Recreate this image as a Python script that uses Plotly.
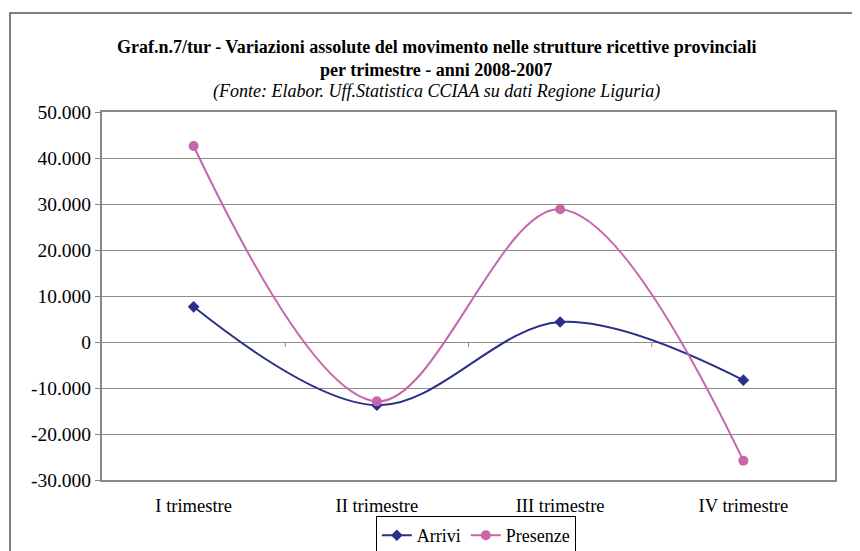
import plotly.graph_objects as go

categories = ["I trimestre", "II trimestre", "III trimestre", "IV trimestre"]
arrivi = [7650, -13750, 4350, -8300]
presenze = [42600, -12900, 28850, -25800]
tick_vals = [-30000, -20000, -10000, 0, 10000, 20000, 30000, 40000, 50000]
tick_text = ["-30.000", "-20.000", "-10.000", "0", "10.000", "20.000", "30.000", "40.000", "50.000"]

font_family = "Liberation Serif"

fig = go.Figure()
fig.add_trace(go.Scatter(
    x=categories, y=arrivi, name="Arrivi", mode="lines+markers",
    line=dict(color="#2B2F8C", width=2, shape="spline", smoothing=1.0),
    marker=dict(symbol="diamond", size=9, color="#2B2F8C"),
))
fig.add_trace(go.Scatter(
    x=categories, y=presenze, name="Presenze", mode="lines+markers",
    line=dict(color="#C865AB", width=2, shape="spline", smoothing=1.0),
    marker=dict(symbol="circle", size=10, color="#C865AB"),
))

shapes = [
    dict(type="rect", xref="paper", yref="paper", x0=-0.1255, x1=1.06, y0=-0.35, y1=1.269,
         line=dict(color="#555555", width=1.5), fillcolor="rgba(0,0,0,0)", layer="below"),
]
for b in [0.5, 1.5, 2.5]:
    shapes.append(dict(type="line", xref="x", yref="y", x0=b, x1=b,
                       ysizemode="pixel", yanchor=0, y0=0, y1=-5,
                       line=dict(color="#888888", width=1)))

fig.update_layout(
    width=852, height=543,
    margin=dict(l=94, r=25, t=104, b=71, autoexpand=False),
    paper_bgcolor="white", plot_bgcolor="white",
    font=dict(family=font_family, color="black"),
    showlegend=True,
    legend=dict(orientation="h", x=0.51, xanchor="center", y=-0.098, yanchor="top",
                bordercolor="black", borderwidth=1, font=dict(size=18, family=font_family),
                tracegroupgap=0),
    shapes=shapes,
    annotations=[
        dict(text="<b>Graf.n.7/tur - Variazioni assolute del movimento nelle strutture ricettive provinciali</b>",
             xref="paper", yref="paper", x=0.456, y=1.177, xanchor="center", yanchor="middle",
             showarrow=False, font=dict(size=18, family=font_family)),
        dict(text="<b>per trimestre - anni 2008-2007</b>",
             xref="paper", yref="paper", x=0.456, y=1.114, xanchor="center", yanchor="middle",
             showarrow=False, font=dict(size=18, family=font_family)),
        dict(text="<i>(Fonte: Elabor. Uff.Statistica CCIAA su dati Regione Liguria)</i>",
             xref="paper", yref="paper", x=0.456, y=1.057, xanchor="center", yanchor="middle",
             showarrow=False, font=dict(size=18, family=font_family)),
    ],
)
fig.update_xaxes(
    type="category", range=[-0.5, 3.5], showgrid=False, zeroline=False, automargin=False,
    showline=True, mirror=True, linecolor="#888888", linewidth=2,
    ticks="", tickfont=dict(size=18.5, family=font_family), ticklabelstandoff=8,
)
fig.update_yaxes(
    range=[-30000, 50000], tickvals=tick_vals, ticktext=tick_text, automargin=False,
    showgrid=True, gridcolor="#8C8C8C", gridwidth=1, zeroline=False,
    showline=True, mirror=True, linecolor="#888888", linewidth=2,
    ticks="outside", ticklen=5, tickcolor="#888888",
    tickfont=dict(size=19.5, family=font_family),
)

fig.write_html("out.html")
